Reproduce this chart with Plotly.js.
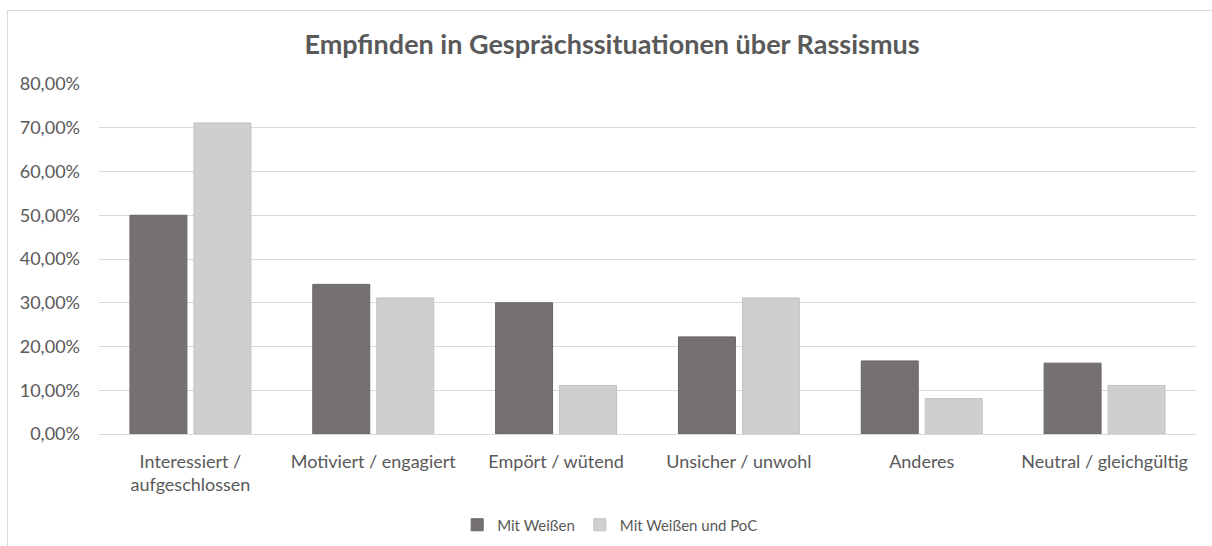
<!DOCTYPE html>
<html>
<head>
<meta charset="utf-8">
<script src="https://cdn.plot.ly/plotly-3.0.1.min.js"></script>
<style>
html,body{margin:0;padding:0;background:#fff;overflow:hidden;width:1212px;height:546px;}
#frame{position:absolute;left:7px;top:10px;width:1205px;height:536px;border-left:1px solid #d9d9d9;border-top:1px solid #d9d9d9;box-sizing:border-box;}
#chart{position:absolute;left:0;top:0;width:1212px;height:546px;}
</style>
</head>
<body>
<div id="frame"></div>
<div id="chart"></div>
<script>
const categories = ["Interessiert /<br>aufgeschlossen", "Motiviert / engagiert", "Empört / wütend", "Unsicher / unwohl", "Anderes", "Neutral / gleichgültig"];
const seriesNames = ["Mit Weißen", "Mit Weißen und PoC"];
const mitWeissen = [50.0, 34.2, 30.0, 22.2, 16.7, 16.2];
const mitWeissenPoC = [71.1, 31.1, 11.1, 31.1, 8.1, 11.1];
const tickVals = [0, 10, 20, 30, 40, 50, 60, 70, 80];
const tickText = ["0,00%", "10,00%", "20,00%", "30,00%", "40,00%", "50,00%", "60,00%", "70,00%", "80,00%"];

const fontFam = "Lato, Open Sans, sans-serif";
const data = [
  {type:"bar", name:seriesNames[0], x:categories, y:mitWeissen,
   marker:{color:"#767171", line:{color:"#6a6565", width:1}}, hoverinfo:"y"},
  {type:"bar", name:seriesNames[1], x:categories, y:mitWeissenPoC,
   marker:{color:"#d0cece", line:{color:"#c4c2c2", width:1}}, hoverinfo:"y"}
];
const layout = {
  width:1212, height:546,
  margin:{l:99, r:16, t:84, b:112, autoexpand:false},
  paper_bgcolor:"rgba(0,0,0,0)", plot_bgcolor:"rgba(0,0,0,0)",
  font:{family:fontFam, color:"#595959"},
  title:{text:"<b>Empfinden in Gesprächssituationen über Rassismus</b>", x:0.505, xanchor:"center", y:0.918, yanchor:"middle", font:{size:27, color:"#595959", family:fontFam}},
  barmode:"group", bargap:0.3, bargroupgap:0.11,
  xaxis:{tickfont:{size:18, color:"#595959"}, showline:true, linecolor:"#d9d9d9", linewidth:1, ticks:"", showgrid:false, automargin:false, ticklabelstandoff:11},
  yaxis:{range:[0,80], tickvals:tickVals, ticktext:tickText, tickfont:{size:18, color:"#595959"}, showgrid:true, gridcolor:"#d9d9d9", gridwidth:1, zeroline:false, showline:false, ticks:"", ticklabelstandoff:18, automargin:false},
  legend:{orientation:"h", x:0.466, xanchor:"center", y:-0.26, yanchor:"middle", font:{size:15, color:"#595959"}, itemwidth:30, traceorder:"normal"},
  showlegend:true
};
Plotly.newPlot("chart", data, layout, {displayModeBar:false, staticPlot:true});
</script>
</body>
</html>
